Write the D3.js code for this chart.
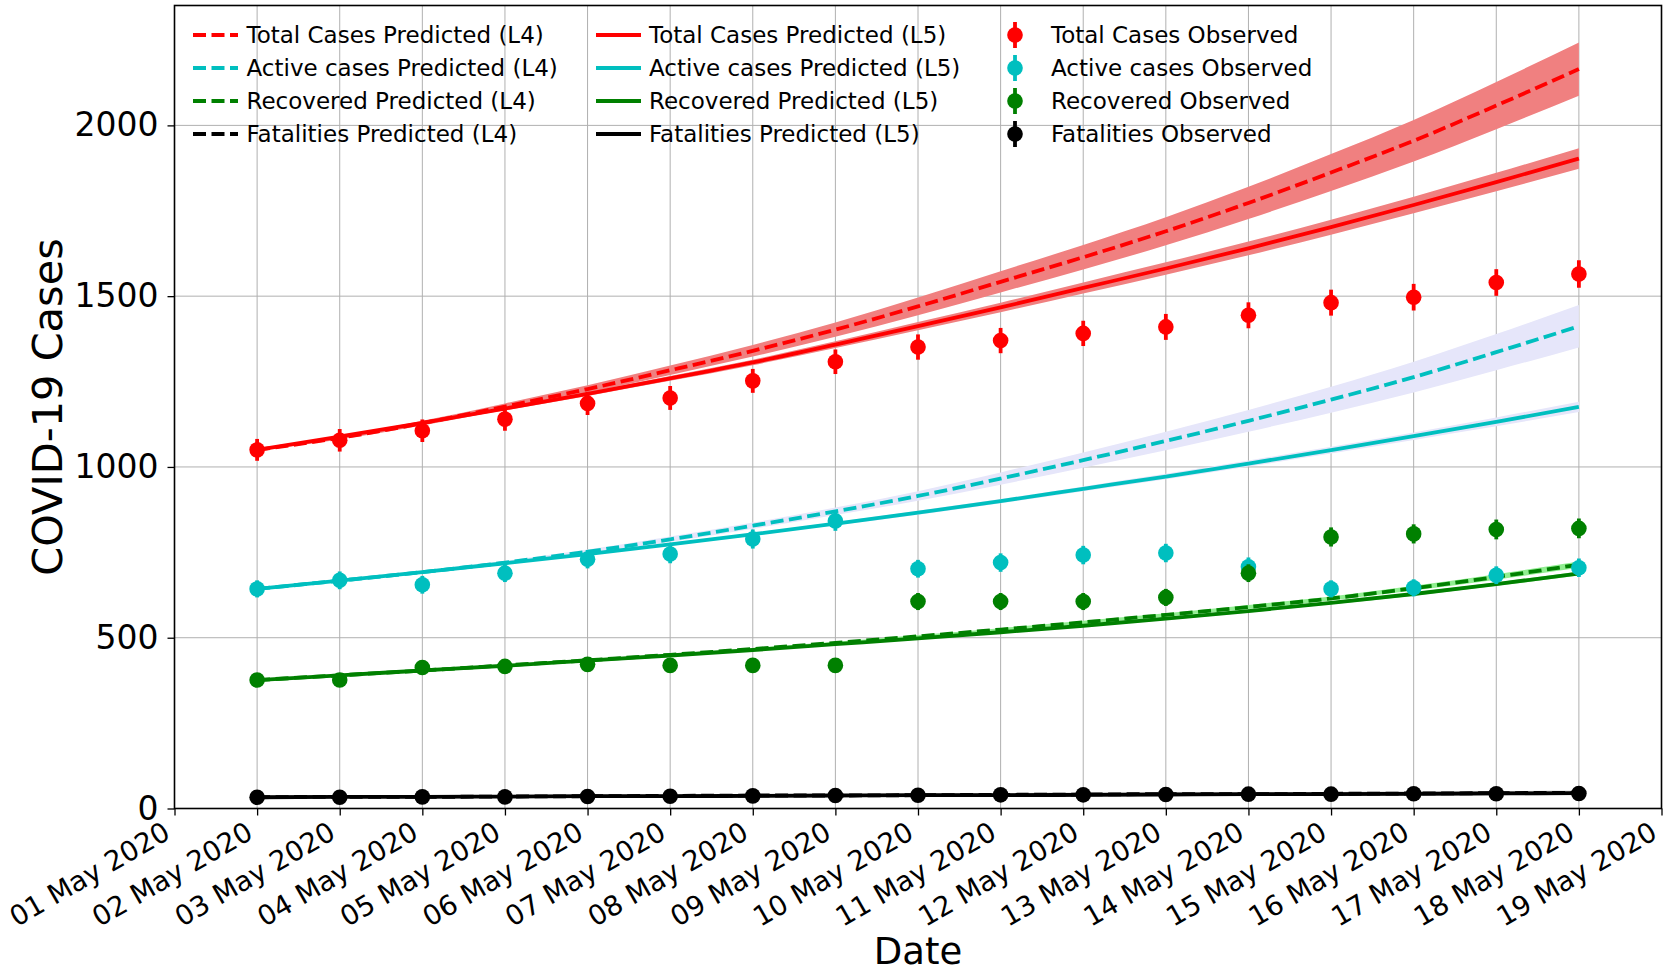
<!DOCTYPE html>
<html>
<head>
<meta charset="utf-8">
<script src="https://cdn.jsdelivr.net/npm/d3@7"></script>
<style>
  html, body { margin: 0; padding: 0; background: #fff; }
  svg { display: block; font-family: "DejaVu Sans", sans-serif; }
</style>
</head>
<body>
<svg id="chart" width="1666" height="974"></svg>
<script>
// ---- data: daily values, 02 May 2020 .. 18 May 2020 ----
const dates = ["2020-05-02","2020-05-03","2020-05-04","2020-05-05","2020-05-06","2020-05-07",
  "2020-05-08","2020-05-09","2020-05-10","2020-05-11","2020-05-12","2020-05-13","2020-05-14",
  "2020-05-15","2020-05-16","2020-05-17","2020-05-18"];

// observed counts with error bars
const totalObserved     = [1050,1078,1106,1140,1186,1202,1252,1308,1351,1370,1391,1410,1444,1481,1497,1540,1565];
const totalErr          = [32,33,33,34,34,35,35,36,37,37,37,38,38,38,39,39,40];
const activeObserved    = [643,668,655,689,730,745,789,842,702,720,742,748,708,643,646,683,705];
const activeErr         = [25,26,26,26,27,27,28,29,26,27,27,27,27,25,25,26,27];
const recoveredObserved = [376,376,413,416,422,419,419,419,606,606,606,618,689,795,804,817,820];
const recoveredErr      = [19,19,20,20,21,20,20,20,25,25,25,25,26,28,28,29,29];
const fatalObserved     = [33,33,34,34,35,36,37,38,39,40,40,41,42,42,43,43,44];
const fatalErr          = [6,6,6,6,6,6,6,6,6,6,6,6,6,7,7,7,7];

// model L4 predictions and half-width of their uncertainty bands
const totalL4         = [1050,1085,1128,1177,1228,1283,1340,1402,1470,1542,1614,1690,1773,1862,1955,2058,2165];
const totalL4Band     = [3,5,7,9,11,14,17,21,26,31,36,41,47,54,61,69,78];
const activeL4        = [643,667,692,720,752,788,828,870,915,966,1020,1076,1135,1197,1263,1336,1412];
const activeL4Band    = [2,3,4,5,6,8,9,11,14,18,22,27,32,38,45,53,62];
const recoveredL4     = [376,390,404,419,434,450,467,485,504,524,545,567,590,615,645,678,714];
const recoveredL4Band = [1,1,2,2,2,3,3,3,4,4,5,5,6,6,7,8,9];
const fatalL4         = [33,34,34,35,36,37,38,38,39,40,41,42,42,43,44,45,46];
const fatalL4Band     = [3,3,3,3,4,4,4,4,4,5,5,5,5,5,6,6,6];

// model L5 predictions and half-width of their uncertainty bands
const totalL5         = [1050,1089,1129,1171,1214,1259,1306,1358,1412,1467,1524,1581,1640,1702,1767,1834,1903];
const totalL5Band     = [2,3,4,5,6,7,8,10,12,14,16,18,20,22,24,27,30];
const activeL5        = [643,667,692,718,745,773,803,834,866,900,936,972,1010,1049,1090,1132,1176];
const activeL5Band    = [1,2,2,3,3,4,4,5,6,6,7,8,9,10,11,13,15];
const recoveredL5     = [376,390,404,418,433,448,464,481,498,516,535,556,578,602,628,657,688];
const recoveredL5Band = [1,1,1,2,2,2,2,3,3,3,3,4,4,4,5,5,6];
const fatalL5         = [33,34,34,35,36,36,37,38,39,39,40,41,42,42,43,44,45];
const fatalL5Band     = [2,2,2,3,3,3,3,3,3,4,4,4,4,4,4,5,5];

const yTickValues = [0, 500, 1000, 1500, 2000];
const xStart = "2020-05-01", xEnd = "2020-05-19";

// ---- layout ----
const svg = d3.select("#chart");
const plot = { left: 174.5, right: 1661.5, top: 5.5, bottom: 808.5 };
const parse = d3.utcParse("%Y-%m-%d");
const days = dates.map(parse);

const x = d3.scaleUtc().domain([parse(xStart), parse(xEnd)]).range([plot.left, plot.right]);
const y = d3.scaleLinear().domain([0, 2351]).range([plot.bottom, plot.top]);

svg.append("defs").append("clipPath").attr("id", "plotClip")
  .append("rect").attr("x", plot.left).attr("y", plot.top)
  .attr("width", plot.right - plot.left).attr("height", plot.bottom - plot.top);

// grid
const xTicks = d3.utcDay.range(parse(xStart), d3.utcDay.offset(parse(xEnd), 1));
const grid = svg.append("g").attr("stroke", "#b0b0b0").attr("stroke-width", 1);
grid.selectAll("line.v").data(xTicks).join("line")
  .attr("x1", d => x(d)).attr("x2", d => x(d)).attr("y1", plot.top).attr("y2", plot.bottom);
grid.selectAll("line.h").data(yTickValues).join("line")
  .attr("x1", plot.left).attr("x2", plot.right).attr("y1", d => y(d)).attr("y2", d => y(d));

const body = svg.append("g").attr("clip-path", "url(#plotClip)");

// uncertainty bands
const area = d3.area().x((d, i) => x(days[i])).curve(d3.curveMonotoneX);
function band(values, half, color) {
  body.append("path")
    .datum(values)
    .attr("fill", color)
    .attr("d", area.y0((d, i) => y(d - half[i])).y1((d, i) => y(d + half[i])));
}
band(totalL4, totalL4Band, "#f08080");
band(activeL4, activeL4Band, "#e6e6fa");
band(recoveredL4, recoveredL4Band, "#90ee90");
band(fatalL4, fatalL4Band, "#b4b4b4");
band(totalL5, totalL5Band, "#f08080");
band(activeL5, activeL5Band, "#e6e6fa");
band(recoveredL5, recoveredL5Band, "#90ee90");
band(fatalL5, fatalL5Band, "#b4b4b4");

// prediction curves
const line = d3.line().x((d, i) => x(days[i])).y(d => y(d)).curve(d3.curveMonotoneX);
const LW = 3.8, DASH = "13,5.5";
const colors = { total: "#ff0000", active: "#00bfbf", recovered: "#008000", fatal: "#000000" };
function curve(values, color, dashed) {
  body.append("path").datum(values)
    .attr("fill", "none").attr("stroke", color).attr("stroke-width", LW)
    .attr("stroke-dasharray", dashed ? DASH : null)
    .attr("d", line);
}
curve(totalL4, colors.total, true);
curve(activeL4, colors.active, true);
curve(recoveredL4, colors.recovered, true);
curve(fatalL4, colors.fatal, true);
curve(totalL5, colors.total, false);
curve(activeL5, colors.active, false);
curve(recoveredL5, colors.recovered, false);
curve(fatalL5, colors.fatal, false);

// observed points with error bars
function observed(values, errs, color) {
  const g = body.append("g");
  g.selectAll("line").data(values).join("line")
    .attr("x1", (d, i) => x(days[i])).attr("x2", (d, i) => x(days[i]))
    .attr("y1", (d, i) => y(d - errs[i])).attr("y2", (d, i) => y(d + errs[i]))
    .attr("stroke", color).attr("stroke-width", 3.8);
  g.selectAll("circle").data(values).join("circle")
    .attr("cx", (d, i) => x(days[i])).attr("cy", d => y(d)).attr("r", 7.8)
    .attr("fill", color);
}
observed(totalObserved, totalErr, colors.total);
observed(activeObserved, activeErr, colors.active);
observed(recoveredObserved, recoveredErr, colors.recovered);
observed(fatalObserved, fatalErr, colors.fatal);

// axes
const fmt = d3.utcFormat("%d %b %Y");
const xAxis = svg.append("g").attr("transform", `translate(0,${plot.bottom})`)
  .call(d3.axisBottom(x).tickValues(xTicks).tickFormat(fmt).tickSize(7).tickSizeOuter(0));
xAxis.select(".domain").remove();
xAxis.selectAll(".tick line").attr("stroke", "#000").attr("stroke-width", 1.3);
xAxis.selectAll(".tick text")
  .attr("x", 0).attr("y", 0).attr("dy", null)
  .attr("text-anchor", "end")
  .attr("font-size", 27.5).attr("font-family", "DejaVu Sans").attr("fill", "#000")
  .attr("transform", "translate(-3,29) rotate(-30)");

const yAxis = svg.append("g").attr("transform", `translate(${plot.left},0)`)
  .call(d3.axisLeft(y).tickValues(yTickValues).tickFormat(d3.format("d"))
    .tickSize(7).tickPadding(9).tickSizeOuter(0));
yAxis.select(".domain").remove();
yAxis.selectAll(".tick line").attr("stroke", "#000").attr("stroke-width", 1.3);
yAxis.selectAll(".tick text")
  .attr("font-size", 33).attr("font-family", "DejaVu Sans").attr("fill", "#000");

// frame
svg.append("rect")
  .attr("x", plot.left).attr("y", plot.top)
  .attr("width", plot.right - plot.left).attr("height", plot.bottom - plot.top)
  .attr("fill", "none").attr("stroke", "#000").attr("stroke-width", 1.6);

// axis titles
svg.append("text").attr("x", (plot.left + plot.right) / 2).attr("y", 964)
  .attr("text-anchor", "middle").attr("font-size", 37).text("Date");
svg.append("text")
  .attr("transform", `translate(62,${(plot.top + plot.bottom) / 2}) rotate(-90)`)
  .attr("text-anchor", "middle").attr("font-size", 41.5).text("COVID-19 Cases");

// legend (three columns, no frame)
const legendRows = [35, 68, 101, 134];
const legend = svg.append("g").attr("font-size", 23);
const predL4 = [
  ["Total Cases Predicted (L4)", colors.total],
  ["Active cases Predicted (L4)", colors.active],
  ["Recovered Predicted (L4)", colors.recovered],
  ["Fatalities Predicted (L4)", colors.fatal]];
const predL5 = [
  ["Total Cases Predicted (L5)", colors.total],
  ["Active cases Predicted (L5)", colors.active],
  ["Recovered Predicted (L5)", colors.recovered],
  ["Fatalities Predicted (L5)", colors.fatal]];
const obs = [
  ["Total Cases Observed", colors.total],
  ["Active cases Observed", colors.active],
  ["Recovered Observed", colors.recovered],
  ["Fatalities Observed", colors.fatal]];

predL4.forEach(([label, c], i) => {
  legend.append("line").attr("x1", 193).attr("x2", 238).attr("y1", legendRows[i]).attr("y2", legendRows[i])
    .attr("stroke", c).attr("stroke-width", LW).attr("stroke-dasharray", DASH);
  legend.append("text").attr("x", 246.5).attr("y", legendRows[i]).attr("dy", "0.36em").text(label);
});
predL5.forEach(([label, c], i) => {
  legend.append("line").attr("x1", 596).attr("x2", 641).attr("y1", legendRows[i]).attr("y2", legendRows[i])
    .attr("stroke", c).attr("stroke-width", LW);
  legend.append("text").attr("x", 649).attr("y", legendRows[i]).attr("dy", "0.36em").text(label);
});
obs.forEach(([label, c], i) => {
  legend.append("line").attr("x1", 1015).attr("x2", 1015)
    .attr("y1", legendRows[i] - 13).attr("y2", legendRows[i] + 13)
    .attr("stroke", c).attr("stroke-width", 3.8);
  legend.append("circle").attr("cx", 1015).attr("cy", legendRows[i]).attr("r", 7.8).attr("fill", c);
  legend.append("text").attr("x", 1051).attr("y", legendRows[i]).attr("dy", "0.36em").text(label);
});
</script>
</body>
</html>
